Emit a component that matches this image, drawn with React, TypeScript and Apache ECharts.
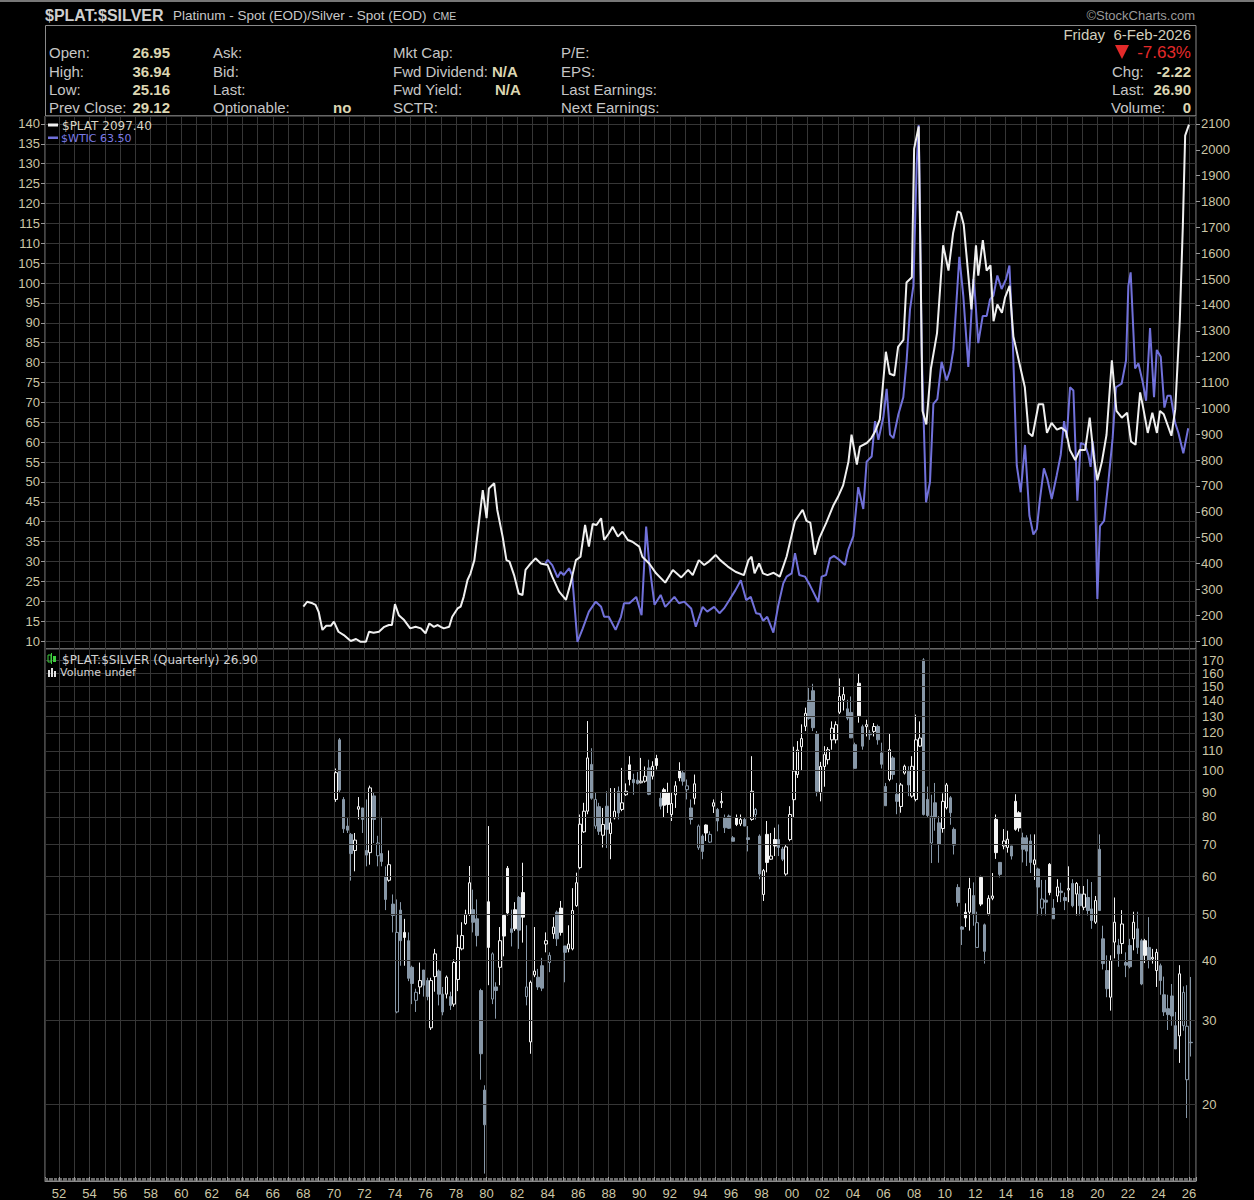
import React, { useEffect, useRef } from "react";
import * as echarts from "echarts";

// ---------------- data ----------------
// $PLAT (right axis) [year, price]
const platinumPrice: [number, number][] = [
  [1968.0, 233], [1968.25, 252], [1968.6, 246], [1968.8, 240], [1969.0, 213], [1969.25, 143], [1969.5, 159], [1969.8, 159],
  [1970.0, 175], [1970.3, 136], [1970.65, 123], [1971.1, 100], [1971.45, 108], [1971.75, 97], [1972.1, 97], [1972.3, 136],
  [1972.6, 132], [1972.95, 136], [1973.3, 155], [1973.6, 162], [1973.8, 162], [1974.0, 243], [1974.25, 200], [1974.6, 181],
  [1975.0, 149], [1975.35, 155], [1975.7, 149], [1976.0, 130], [1976.25, 168], [1976.55, 155], [1976.8, 162], [1977.0, 155],
  [1977.2, 149], [1977.55, 155], [1977.75, 194], [1978.1, 226], [1978.3, 233], [1978.5, 271], [1978.75, 336], [1978.95, 362],
  [1979.2, 413], [1979.4, 510], [1979.75, 684], [1980.0, 575], [1980.15, 690], [1980.5, 710], [1980.7, 607], [1981.05, 504],
  [1981.3, 413], [1981.5, 407], [1981.8, 355], [1982.1, 284], [1982.35, 278], [1982.55, 375], [1982.8, 394], [1983.2, 420],
  [1983.55, 400], [1984.0, 394], [1984.3, 349], [1984.75, 291], [1985.2, 259], [1985.5, 323], [1985.85, 413], [1986.15, 426],
  [1986.45, 549], [1986.7, 465], [1986.95, 553], [1987.2, 549], [1987.5, 575], [1987.7, 491], [1988.0, 516], [1988.25, 542],
  [1988.6, 504], [1988.9, 523], [1989.25, 491], [1989.55, 484], [1990.0, 465], [1990.2, 426], [1990.65, 400], [1991.1, 362],
  [1991.7, 326], [1992.2, 375], [1992.75, 346], [1993.2, 375], [1993.5, 355], [1993.9, 413], [1994.25, 394], [1994.55, 407],
  [1995.0, 433], [1995.3, 413], [1995.8, 388], [1996.3, 368], [1996.85, 355], [1997.15, 413], [1997.35, 426], [1997.55, 362],
  [1997.85, 400], [1998.1, 362], [1998.4, 355], [1998.8, 364], [1999.2, 349], [1999.65, 427], [2000.2, 565], [2000.7, 608],
  [2000.95, 565], [2001.2, 558], [2001.5, 434], [2001.8, 499], [2002.25, 558], [2002.7, 623], [2003.0, 656], [2003.35, 702],
  [2003.7, 794], [2003.9, 898], [2004.25, 783], [2004.45, 852], [2004.9, 866], [2005.2, 885], [2005.45, 911], [2005.75, 957],
  [2006.15, 1219], [2006.4, 1134], [2006.7, 1127], [2006.95, 1238], [2007.3, 1265], [2007.5, 1487], [2007.85, 1507], [2008.0, 2004],
  [2008.3, 2090], [2008.55, 990], [2008.8, 938], [2009.1, 1154], [2009.5, 1291], [2009.9, 1631], [2010.25, 1533], [2010.55, 1677],
  [2010.85, 1762], [2011.05, 1756], [2011.25, 1710], [2011.45, 1579], [2011.75, 1383], [2012.05, 1631], [2012.2, 1513], [2012.5, 1651],
  [2012.75, 1533], [2013.0, 1553], [2013.2, 1337], [2013.45, 1402], [2013.75, 1370], [2013.95, 1428], [2014.25, 1474], [2014.5, 1278],
  [2014.85, 1186], [2015.25, 1082], [2015.5, 905], [2015.75, 892], [2016.15, 1016], [2016.45, 1016], [2016.7, 905], [2017.0, 944],
  [2017.35, 918], [2017.65, 925], [2017.95, 911], [2018.2, 839], [2018.55, 800], [2018.85, 839], [2019.2, 839], [2019.5, 964],
  [2019.75, 820], [2020.0, 722], [2020.3, 794], [2020.6, 898], [2020.95, 1186], [2021.25, 990], [2021.6, 964], [2021.95, 983],
  [2022.2, 872], [2022.5, 859], [2022.8, 1062], [2023.0, 1003], [2023.3, 905], [2023.6, 983], [2023.9, 905], [2024.1, 990],
  [2024.35, 977], [2024.85, 894], [2025.1, 996], [2025.4, 1342], [2025.6, 1709], [2025.75, 2055], [2026.0, 2097.4],
];

// $WTIC (left axis) [year, price]
const wticPrice: [number, number][] = [
  [1983.85, 29.5], [1984.0, 30.4], [1984.3, 29.1], [1984.65, 26.0], [1984.85, 27.4], [1985.05, 26.6], [1985.4, 28.3], [1985.6, 26.6],
  [1985.95, 9.8], [1986.3, 13.2], [1986.7, 17.4], [1987.15, 19.9], [1987.5, 18.6], [1987.7, 16.1], [1988.0, 16.1], [1988.45, 12.8],
  [1988.8, 16.1], [1989.0, 19.5], [1989.35, 19.5], [1989.8, 21.1], [1990.15, 16.5], [1990.45, 38.8], [1990.65, 29.5], [1991.0, 19.1],
  [1991.4, 21.6], [1991.7, 18.6], [1992.3, 21.1], [1992.6, 19.5], [1992.95, 19.9], [1993.4, 18.2], [1993.7, 13.6], [1994.15, 18.6],
  [1994.45, 17.4], [1994.9, 18.6], [1995.25, 17.0], [1995.55, 18.2], [1995.9, 20.3], [1996.3, 22.8], [1996.65, 25.3], [1997.0, 20.3],
  [1997.3, 21.1], [1997.65, 17.0], [1997.9, 16.8], [1998.12, 15.1], [1998.38, 16.1], [1998.78, 12.1], [1999.1, 18.9], [1999.43, 24.5],
  [1999.65, 26.2], [1999.98, 27.0], [2000.2, 32.1], [2000.48, 26.6], [2000.85, 26.2], [2001.18, 24.0], [2001.72, 19.8], [2001.94, 26.2],
  [2002.23, 26.6], [2002.49, 30.8], [2002.75, 31.4], [2003.1, 30.4], [2003.47, 29.1], [2003.69, 33.0], [2004.02, 36.4], [2004.34, 48.7],
  [2004.67, 43.2], [2004.89, 55.1], [2005.22, 56.4], [2005.44, 65.3], [2005.66, 60.6], [2005.98, 66.2], [2006.2, 73.4], [2006.42, 61.9],
  [2006.64, 61.0], [2006.97, 67.0], [2007.29, 71.3], [2007.51, 80.6], [2007.73, 93.4], [2007.95, 99.3], [2008.17, 130], [2008.3, 139.7],
  [2008.5, 82.3], [2008.78, 44.9], [2009.04, 50], [2009.26, 69.6], [2009.52, 70.8], [2009.8, 80.2], [2010.13, 75.5], [2010.35, 78.1],
  [2010.57, 83.2], [2010.96, 106.6], [2011.22, 96.8], [2011.55, 78.9], [2011.88, 101], [2011.99, 96.8], [2012.2, 84.9], [2012.49, 91.7],
  [2012.75, 91.7], [2012.97, 95.9], [2013.19, 96.8], [2013.45, 101.9], [2013.73, 98.5], [2014.02, 101], [2014.24, 104.4], [2014.45, 86.6],
  [2014.72, 54.2], [2014.98, 47.4], [2015.26, 59.3], [2015.55, 41.5], [2015.81, 36.8], [2016.03, 38.1], [2016.24, 45.7], [2016.5, 53.4],
  [2016.72, 50.8], [2017.01, 45.7], [2017.34, 51.7], [2017.6, 56.8], [2017.82, 65.3], [2017.99, 61], [2018.21, 73.8], [2018.43, 73],
  [2018.69, 45.3], [2018.91, 59.8], [2019.19, 59.3], [2019.41, 56.8], [2019.56, 53.8], [2019.69, 60.2], [2019.8, 56.8], [2020.0, 20.6],
  [2020.17, 38.9], [2020.44, 40.2], [2020.72, 50], [2021.0, 61], [2021.22, 73.8], [2021.59, 74.7], [2021.88, 80.6], [2022.03, 99.3],
  [2022.18, 102.7], [2022.47, 78.5], [2022.69, 79.8], [2022.97, 75.1], [2023.19, 70.4], [2023.45, 88.7], [2023.71, 71.3], [2023.89, 83.2],
  [2024.15, 81.5], [2024.39, 68.7], [2024.59, 71.7], [2024.8, 71.7], [2025.09, 64.9], [2025.31, 62.3], [2025.63, 57.2], [2025.95, 63.5],
];

// $PLAT:$SILVER quarterly candles from 1970 Q1: [open, high, low, close]
const ratioFirstYear = 1970;
const ratioOHLC: [number, number, number, number][] = [
  [87, 101, 86, 99], [116, 117, 90, 91], [87, 88, 74, 75.5], [76.5, 79.5, 74, 75],
  [73.5, 74, 58.8, 67], [68, 74, 61.5, 71.5], [83, 88, 79, 84], [83.5, 83.5, 74, 79],
  [68, 87, 63, 66.5], [67.3, 93, 63.5, 92], [88.5, 90, 70.5, 79], [66.3, 73, 63, 70.5],
  [67, 80, 63, 64.5], [60, 63, 51, 53.7], [58.9, 68, 58.5, 63.5], [52.5, 55, 45.8, 49.7],
  [31.2, 53.7, 31, 45.8], [51, 53, 39, 44], [45.8, 48.9, 39, 44.7], [44, 45.8, 36.2, 36.7],
  [38.7, 39, 32.4, 35.8], [33, 34.9, 31.2, 34.3], [35.2, 39.6, 34, 36.3], [38.2, 38.2, 33.6, 35.5],
  [36.3, 36.8, 33, 33.6], [28.9, 36.8, 28.6, 36.3], [37, 42.3, 34.4, 41.3], [38, 38.3, 32.2, 34],
  [34, 35.2, 30.7, 31.2], [34, 37.2, 33.3, 36.9], [33.6, 34.4, 31.5, 32.2], [32.4, 40.2, 32, 39.6],
  [36.5, 45.3, 34.5, 42.6], [42.3, 48.1, 42, 45.1], [47.8, 51.1, 47.5, 50], [50, 63.1, 49.6, 58.2],
  [51.1, 56.3, 45.8, 48.1], [48.9, 53.7, 42.8, 45.1], [34.6, 34.9, 22.5, 25.5], [21.4, 21.9, 14.3, 18.1],
  [53.1, 76.5, 35.5, 42.6], [33.2, 41.6, 32.4, 41.3], [35.2, 36, 30.2, 34.6], [38.7, 47, 35.5, 44],
  [49.7, 50, 40.8, 45], [62.4, 63.1, 49.7, 50.3], [46.6, 51.1, 42.8, 45.8], [51.1, 53, 46.1, 46.6],
  [54.2, 54.6, 42.3, 46.3], [55.5, 64.1, 43.6, 49.3], [33.6, 47.4, 32.2, 35.2], [27, 36.3, 25.5, 36],
  [37.3, 47, 36.9, 38], [36.9, 38.4, 34.7, 35.2], [39, 40.5, 34.5, 35], [43.3, 45.8, 41.6, 44],
  [39.6, 41.6, 37.8, 41], [45.5, 49.3, 44.4, 47], [50.5, 50.9, 42.9, 44.4], [51.5, 53.3, 45.1, 45.8],
  [42.9, 42.9, 36, 41.6], [42.3, 47.4, 41.6, 43.3], [42.3, 56.7, 42, 50.9], [52.1, 61.1, 51.8, 58.2],
  [62.6, 80.9, 62.1, 77.2], [74.4, 85.6, 74, 82.2], [82.2, 127, 81, 106.3], [103, 111.4, 86.9, 87.5],
  [76.5, 90, 75.5, 87], [84, 85.6, 73.3, 74.6], [73.2, 83.5, 69, 77.1], [84.2, 90.5, 68.8, 75.3],
  [73.8, 91.9, 65.2, 77.7], [79.6, 91.9, 79, 82.2], [90.5, 92.6, 79, 81.5], [82.9, 101.3, 82.2, 85.6],
  [89, 94, 88.5, 90.5], [102.8, 107.2, 93.1, 95.8], [95.8, 98.5, 89, 94.3], [95.5, 99.3, 93.5, 94],
  [94.3, 106.3, 94, 95], [95, 102, 94.3, 97.3], [101.3, 105.4, 88.8, 89.2], [97.3, 104.6, 95.8, 102.1],
  [106, 107.9, 100.5, 102.5], [87.5, 89.8, 82.9, 84.2], [91.2, 92, 79.6, 84.6], [89.8, 94.3, 81.5, 84.9],
  [80.9, 89.8, 78.4, 85.3], [89, 95, 83.5, 92.9], [99.8, 104.1, 95, 96.5], [98.9, 99.8, 93, 95],
  [91.2, 95.8, 87, 92.9], [83.5, 87, 77.1, 79], [87.5, 98.1, 84.9, 93.8], [68.9, 77.1, 68.2, 76.5],
  [72.9, 73.5, 65.2, 67.7], [76.9, 77.1, 71.2, 74], [70.8, 74.6, 70.5, 73.5], [84.2, 87, 81.5, 85.6],
  [82.9, 83.5, 74.6, 78.4], [85.6, 90.5, 83.5, 86.2], [79.6, 80.9, 74, 75.9], [80.3, 80.9, 75.5, 75.7],
  [72.3, 72.9, 71.1, 71.1], [79.6, 80.9, 76.5, 77.1], [77.3, 80.9, 76.5, 79], [79, 79.6, 76.5, 76.5],
  [72.3, 76.5, 67.7, 71.7], [79, 107.2, 78.5, 90.5], [80.9, 83.5, 79, 82.9], [72.9, 73.5, 59.2, 60.7],
  [55, 62.2, 53.3, 61.7], [73.5, 78.4, 61.2, 64.2], [65.2, 74, 65, 66.2], [71.7, 75.9, 66.2, 69.5],
  [71.7, 77.1, 66.2, 69], [68.5, 69.2, 64.6, 65.2], [60.7, 69.8, 60.2, 69.2], [71.7, 84.2, 71.1, 80.9],
  [86.9, 112.2, 79.6, 99.8], [98.1, 115.3, 96.5, 110.4], [112.2, 125, 100, 116.7], [123.8, 135.5, 121, 131.8],
  [140.4, 149, 127.8, 128.7], [147, 152, 121, 123], [119.6, 121, 88.3, 90.5], [89.8, 104.3, 86.2, 102],
  [102, 112.5, 92.5, 108], [105.4, 112, 103, 110.6], [116, 126.8, 110.6, 122.7], [116, 126.8, 114, 124.8],
  [132.5, 156, 131.4, 143], [140.7, 149.9, 133.6, 144.3], [134.7, 140.7, 127.5, 128.8], [132.4, 143, 117, 117.1],
  [113.3, 114.4, 101, 101.1], [152.4, 160, 126, 130.3], [123.6, 124.8, 110.6, 112.5], [123.6, 127.8, 117.9, 124.8],
  [119.8, 121.7, 116, 118.9], [120.8, 125.8, 117.9, 123.7], [123.7, 124.8, 113.3, 116], [108.9, 114.4, 101, 103.1],
  [92.6, 94.2, 84.4, 84.4], [95.8, 119.8, 95, 110.6], [106.3, 107.2, 95.8, 98.1], [89.2, 94.2, 81, 86.2],
  [84.1, 94.2, 81.6, 93.3], [98.8, 102.9, 98.1, 102.1], [99.6, 102.1, 88.4, 93.3], [88.4, 107.2, 87.7, 102.1],
  [87, 131, 86.2, 116], [112.5, 126.8, 112, 117], [170.6, 172, 80.5, 80.9], [87, 92.6, 79.7, 80.5],
  [70.5, 89, 64, 80.2], [85.6, 94.2, 74.8, 79.6], [77.7, 80.3, 64.1, 70], [75.6, 89.6, 74.1, 86.2],
  [83.6, 94.2, 82.9, 93.3], [87.7, 88.4, 77, 81.6], [75.3, 76, 66.7, 69.8], [56.9, 57.8, 51.9, 52.9],
  [47, 47.2, 43.1, 46.5], [50.5, 52.7, 47, 49.1], [50.5, 59.6, 46.2, 56.6], [54.7, 58.3, 47.3, 50.1],
  [42.6, 50.6, 42.6, 48], [59.7, 60.2, 52, 52.5], [47.5, 47.8, 39.4, 41.8], [50.1, 54.8, 49.7, 54],
  [54, 61, 53.5, 54.6], [79, 80.9, 65.3, 67.3], [64.2, 64.2, 59.7, 60.6], [69.5, 75.4, 68.4, 71.2],
  [69, 74.8, 67.3, 71.8], [69.5, 69.5, 65.1, 66.2], [86.2, 89.2, 74.8, 75.3], [81.6, 82.2, 74.5, 75.8],
  [72.3, 74.1, 64.2, 68.4], [72.3, 73.2, 63.1, 67.8], [71.2, 73.5, 61, 64.2], [63.6, 73.5, 59, 65],
  [62.2, 62.6, 49.7, 57], [51.5, 59, 49.7, 53.8], [53.5, 59, 49.7, 53], [63.6, 64, 54.8, 55.5],
  [51.5, 53.8, 48.9, 48.9], [54.6, 59.2, 53, 57], [55.9, 58.2, 53, 55.5], [54.2, 55.5, 51, 53.4],
  [56.2, 63, 53, 56.6], [58, 59.2, 51.7, 52.1], [55.1, 58.4, 49.7, 58], [55.1, 57.3, 49.7, 52.1],
  [51.7, 57.3, 51, 55.1], [54.2, 59.2, 49.7, 50.9], [51.3, 58.4, 46.6, 48.5], [48.1, 54.6, 47.7, 53.4],
  [68.4, 73.5, 50.9, 50.9], [44.4, 47.3, 38.3, 39.4], [38.1, 41, 33.5, 34.9], [33.5, 41, 31.4, 40],
  [43.7, 54.2, 40.4, 48.1], [43, 44.4, 38.8, 41.3], [43.4, 51, 41.3, 47.7], [39.6, 41.6, 36.9, 39.1],
  [43, 44.4, 38.5, 38.8], [44.4, 50.6, 42, 48.1], [46.6, 50.6, 41.3, 42.6], [44, 44.4, 35.5, 35.7],
  [44, 44.4, 39.5, 41], [42.6, 49.3, 38.5, 40], [40.3, 42.3, 39.4, 40.6], [38.1, 42.3, 35.2, 41.6],
  [39, 39.4, 33.9, 36.3], [33.9, 37, 30.6, 31.2], [31.7, 33.9, 28.6, 30.8], [33.7, 35.7, 29.2, 30.6],
  [29.2, 31.2, 26.1, 26.1], [27.8, 39.1, 24.4, 37.5], [29.2, 35.3, 28.5, 34.3], [22.5, 35.5, 18.7, 29.12],
  [26.95, 36.94, 25.16, 26.9],
];

const ratioGridValues = [20, 30, 40, 50, 60, 70, 80, 90, 100, 110, 120, 130, 140, 150, 160, 170];

const quoteCol1: [string, string][] = [["Open:", "26.95"], ["High:", "36.94"], ["Low:", "25.16"], ["Prev Close:", "29.12"]];
const quoteCol2 = ["Ask:", "Bid:", "Last:", "Optionable:"];
const quoteCol3 = ["Mkt Cap:", "Fwd Dividend:", "Fwd Yield:", "SCTR:"];
const quoteCol4 = ["P/E:", "EPS:", "Last Earnings:", "Next Earnings:"];

// ---------------- styles ----------------
const BG = "#000000";
const BORDER = "#8a8a8a";
const GRID = "#363636";
const LABEL = "#c6c6c6";
const VALUE = "#dcd6b2";
const AXIS_TXT = "#ccc6a6";
const PLAT_COLOR = "#f0f0f0";
const WTIC_COLOR = "#7171da";
const UP = "#f4f4f4";
const DOWN = "#8797a7";
const HEAD_FONT = "'Liberation Sans', Arial, sans-serif";
const LEG_FONT = "'DejaVu Sans', Verdana, sans-serif";

const X_MIN = 1951.08;
const X_MAX = 2026.46;

function T(x: number, y: number, text: string, o: any = {}) {
  const align = o.align || "left";
  return {
    type: "text",
    x,
    y,
    silent: true,
    z: 100,
    style: {
      text,
      fill: o.fill || LABEL,
      fontSize: o.size || 15,
      fontFamily: o.family || HEAD_FONT,
      fontWeight: o.bold ? "bold" : "normal",
      align,
      textAlign: align,
      verticalAlign: "middle",
      textVerticalAlign: "middle",
    },
  };
}

function buildGraphics() {
  const g: any[] = [];
  g.push({ type: "rect", silent: true, shape: { x: 0, y: 0, width: 1254, height: 2 }, style: { fill: "#777" } });
  g.push({
    type: "rect",
    silent: true,
    shape: { x: 45.5, y: 25.5, width: 1150.5, height: 90.5 },
    style: { fill: "none", stroke: BORDER, lineWidth: 1 },
  });
  g.push(T(45, 15, "$PLAT:$SILVER", { size: 16, bold: true, fill: "#cfcfcf" }));
  g.push(T(173, 15, "Platinum - Spot (EOD)/Silver - Spot (EOD)", { size: 13.5, fill: "#c8c8c8" }));
  g.push(T(433, 15.5, "CME", { size: 10.5, fill: "#c8c8c8" }));
  g.push(T(1195, 15, "©StockCharts.com", { size: 13, fill: "#9a9a9a", align: "right" }));

  const rowsY = [52, 71, 89, 107];
  quoteCol1.forEach(([l, v], i) => {
    g.push(T(49, rowsY[i], l));
    g.push(T(170, rowsY[i], v, { bold: true, fill: VALUE, align: "right" }));
  });
  quoteCol2.forEach((l, i) => g.push(T(213, rowsY[i], l)));
  g.push(T(333, rowsY[3], "no", { bold: true, fill: VALUE }));
  quoteCol3.forEach((l, i) => g.push(T(393, rowsY[i], l)));
  g.push(T(492, rowsY[1], "N/A", { bold: true, fill: VALUE }));
  g.push(T(495, rowsY[2], "N/A", { bold: true, fill: VALUE }));
  quoteCol4.forEach((l, i) => g.push(T(561, rowsY[i], l)));

  g.push(T(1191, 34, "Friday  6-Feb-2026", { fill: "#d2cfbd", align: "right" }));
  g.push({
    type: "polygon",
    silent: true,
    shape: { points: [[1115, 45], [1129, 45], [1122, 59]] },
    style: { fill: "#e42a2a" },
  });
  g.push(T(1191, 52, "-7.63%", { size: 17, fill: "#e42a2a", align: "right" }));
  g.push(T(1112, 71, "Chg:"));
  g.push(T(1191, 71, "-2.22", { bold: true, fill: VALUE, align: "right" }));
  g.push(T(1112, 89, "Last:"));
  g.push(T(1191, 89, "26.90", { bold: true, fill: VALUE, align: "right" }));
  g.push(T(1111, 107, "Volume:"));
  g.push(T(1191, 107, "0", { bold: true, fill: VALUE, align: "right" }));

  // legends
  g.push({ type: "rect", silent: true, z: 100, shape: { x: 48, y: 123.5, width: 10, height: 3 }, style: { fill: PLAT_COLOR } });
  g.push(T(62, 125.5, "$PLAT 2097.40", { size: 12, family: LEG_FONT, fill: "#d9d5c5" }));
  g.push({ type: "rect", silent: true, z: 100, shape: { x: 48, y: 136.5, width: 10, height: 2.5 }, style: { fill: WTIC_COLOR } });
  g.push(T(61, 138.5, "$WTIC 63.50", { size: 11, family: LEG_FONT, fill: "#7b7be6" }));

  // candle icon
  g.push({ type: "rect", silent: true, z: 100, shape: { x: 48, y: 655, width: 3, height: 7 }, style: { fill: "none", stroke: "#3fcf3f", lineWidth: 1 } });
  g.push({ type: "rect", silent: true, z: 100, shape: { x: 53, y: 656, width: 3, height: 6 }, style: { fill: "#3fcf3f" } });
  g.push({ type: "line", silent: true, z: 100, shape: { x1: 51.5, y1: 653, x2: 51.5, y2: 664 }, style: { stroke: "#3fcf3f", lineWidth: 1 } });
  g.push(T(62, 659.5, "$PLAT:$SILVER (Quarterly) 26.90", { size: 12, family: LEG_FONT, fill: "#d2d2d2" }));
  // volume icon
  g.push({ type: "rect", silent: true, z: 100, shape: { x: 48, y: 670, width: 2, height: 7 }, style: { fill: "#e0e0e0" } });
  g.push({ type: "rect", silent: true, z: 100, shape: { x: 51, y: 668, width: 2, height: 9 }, style: { fill: "#e0e0e0" } });
  g.push({ type: "rect", silent: true, z: 100, shape: { x: 54, y: 671, width: 2, height: 6 }, style: { fill: "#e0e0e0" } });
  g.push(T(60, 672.5, "Volume undef", { size: 11, family: LEG_FONT, fill: "#d2d2d2" }));
  return g;
}

function xAxisFor(gridIndex: number, showLabels: boolean) {
  return {
    type: "value",
    gridIndex,
    min: X_MIN,
    max: X_MAX,
    minInterval: 1,
    maxInterval: 1,
    splitNumber: 75,
    axisLine: { show: showLabels, lineStyle: { color: BORDER } },
    axisTick: { show: showLabels, inside: true, length: 4, lineStyle: { color: "#9a9a9a" } },
    minorTick: { show: showLabels, splitNumber: 12, length: 3, lineStyle: { color: "#6c6c6c" } },
    axisLabel: {
      show: showLabels,
      color: AXIS_TXT,
      fontSize: 13,
      fontFamily: HEAD_FONT,
      margin: 6,
      showMinLabel: false,
      showMaxLabel: false,
      formatter: (v: number) => {
        const y = Math.round(v);
        if (Math.abs(v - y) > 1e-6 || y % 2 !== 0) return "";
        return String(y % 100).padStart(2, "0");
      },
    },
    splitLine: { show: true, lineStyle: { color: GRID, width: 1 } },
  };
}

function buildOption() {
  const candleData = ratioOHLC.map(([o, h, l, c], i) => {
    const prev = i > 0 ? ratioOHLC[i - 1][3] : o;
    const col = c >= prev ? UP : DOWN;
    const fill = c > o ? BG : col;
    return {
      value: [ratioFirstYear + 0.125 + i * 0.25, o, c, l, h],
      itemStyle: { color: fill, color0: fill, borderColor: col, borderColor0: col, borderWidth: 1 },
    };
  });

  const yTxt = {
    color: AXIS_TXT,
    fontSize: 13,
    fontFamily: HEAD_FONT,
    margin: 5,
    showMinLabel: false,
    showMaxLabel: false,
    formatter: (v: number) => String(Math.round(v)),
  };

  return {
    animation: false,
    backgroundColor: BG,
    graphic: { elements: buildGraphics() },
    grid: [
      { left: 45, top: 116, width: 1151, height: 533, show: true, backgroundColor: BG, borderColor: BORDER, borderWidth: 1 },
      { left: 45, top: 649, width: 1151, height: 534, show: true, backgroundColor: BG, borderColor: BORDER, borderWidth: 1 },
    ],
    xAxis: [xAxisFor(0, false), xAxisFor(1, true)],
    yAxis: [
      {
        type: "value",
        gridIndex: 0,
        position: "left",
        min: 8,
        max: 142,
        minInterval: 5,
        maxInterval: 5,
        splitNumber: 27,
        axisLine: { show: false },
        axisTick: { show: true, length: 4, lineStyle: { color: "#9a9a9a" } },
        axisLabel: yTxt,
        splitLine: { show: true, lineStyle: { color: GRID, width: 1 } },
      },
      {
        type: "value",
        gridIndex: 0,
        position: "right",
        min: 69.23,
        max: 2130.77,
        minInterval: 100,
        maxInterval: 100,
        splitNumber: 20,
        axisLine: { show: false },
        axisTick: { show: true, length: 4, lineStyle: { color: "#9a9a9a" } },
        axisLabel: yTxt,
        splitLine: { show: false },
      },
      {
        type: "log",
        gridIndex: 1,
        position: "right",
        logBase: 10,
        min: 13.8,
        max: 179.8,
        axisLine: { show: false },
        axisTick: { show: false },
        axisLabel: { show: false },
        splitLine: { show: false },
        minorSplitLine: { show: false },
      },
    ],
    series: [
      {
        name: "$WTIC",
        type: "line",
        xAxisIndex: 0,
        yAxisIndex: 0,
        data: wticPrice,
        showSymbol: false,
        symbol: "none",
        lineStyle: { color: WTIC_COLOR, width: 2 },
        z: 3,
      },
      {
        name: "$PLAT",
        type: "line",
        xAxisIndex: 0,
        yAxisIndex: 1,
        data: platinumPrice,
        showSymbol: false,
        symbol: "none",
        lineStyle: { color: PLAT_COLOR, width: 2 },
        z: 4,
      },
      {
        name: "ratioGrid",
        type: "line",
        xAxisIndex: 1,
        yAxisIndex: 2,
        data: [],
        z: 1,
        markLine: {
          silent: true,
          symbol: ["none", "none"],
          animation: false,
          lineStyle: { color: GRID, type: "solid", width: 1 },
          label: {
            show: true,
            position: "end",
            distance: 6,
            color: AXIS_TXT,
            fontSize: 13,
            fontFamily: HEAD_FONT,
            formatter: (p: any) => String(p.value),
          },
          emphasis: { disabled: true },
          data: ratioGridValues.map((v) => ({ yAxis: v })),
        },
      },
      {
        name: "$PLAT:$SILVER",
        type: "candlestick",
        xAxisIndex: 1,
        yAxisIndex: 2,
        barWidth: 3,
        encode: { x: 0, y: [1, 2, 3, 4] },
        data: candleData,
        z: 3,
      },
    ],
  };
}

export default function App() {
  const ref = useRef<HTMLDivElement | null>(null);
  useEffect(() => {
    if (!ref.current) return;
    const chart = echarts.init(ref.current, undefined, { renderer: "svg" });
    chart.setOption(buildOption() as any);
    return () => chart.dispose();
  }, []);
  return (
    <div
      ref={ref}
      style={{ position: "absolute", left: 0, top: 0, width: 1254, height: 1200, background: BG }}
    />
  );
}
